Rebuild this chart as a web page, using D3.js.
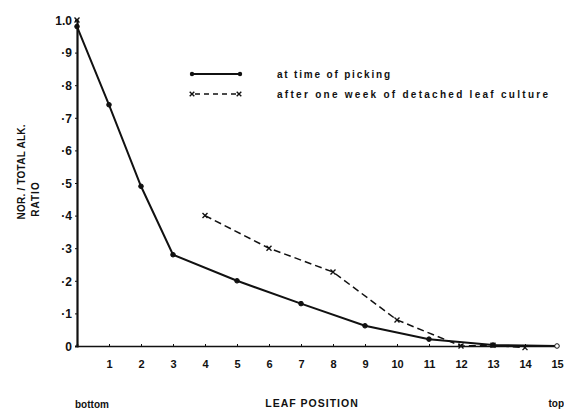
<!DOCTYPE html>
<html>
<head>
<meta charset="utf-8">
<script src="https://cdn.jsdelivr.net/npm/d3@7"></script>
<style>
  html, body { margin: 0; padding: 0; background: #fff; }
  svg { display: block; }
  text { font-family: "Liberation Sans", Arial, sans-serif; font-weight: bold; fill: #111; }
</style>
</head>
<body>
<script>
// ---- data ----
const leafPositions = [0, 1, 2, 3, 4, 5, 6, 7, 8, 9, 10, 11, 12, 13, 14, 15];
const yTickValues = [0, 0.1, 0.2, 0.3, 0.4, 0.5, 0.6, 0.7, 0.8, 0.9, 1.0];
const yTickLabels = ["0", "·1", "·2", "·3", "·4", "·5", "·6", "·7", "·8", "·9", "1.0"];

const pickingPositions = [0, 1, 2, 3, 5, 7, 9, 11, 13, 15];
const pickingValues = [0.98, 0.74, 0.49, 0.28, 0.20, 0.13, 0.062, 0.021, 0.003, 0.0];

const culturePositions = [0, 4, 6, 8, 10, 12, 13, 14];
const cultureValues = [1.0, 0.40, 0.30, 0.227, 0.08, 0.0, 0.002, -0.005];

const legendLabels = ["at time of picking", "after one week of detached leaf culture"];
const xAxisTitle = "LEAF POSITION";
const xEndLabels = ["bottom", "top"];
const yAxisTitle = ["NOR. / TOTAL  ALK.", "RATIO"];

// ---- chart ----
const W = 564, H = 410;
const svg = d3.select("body").append("svg").attr("width", W).attr("height", H);
const ink = "#111";

const x = d3.scaleLinear().domain([0, 15]).range([77, 557]);
const y = d3.scaleLinear().domain([0, 1]).range([346, 20]);

// x axis
const xAxis = d3.axisBottom(x)
  .tickValues(leafPositions)
  .tickSize(-2)
  .tickFormat(d => d === 0 ? "" : String(d));
const gx = svg.append("g").attr("transform", `translate(0,${y(0)})`).call(xAxis);
gx.select(".domain").attr("stroke", ink).attr("stroke-width", 1.6);
gx.selectAll(".tick line").attr("stroke", ink).attr("stroke-width", 1);
gx.selectAll(".tick text")
  .attr("y", 14)
  .attr("font-size", 11)
  .attr("font-family", "Liberation Sans, Arial, sans-serif")
  .attr("font-weight", "bold")
  .attr("fill", ink);

// y axis
const yAxis = d3.axisLeft(y)
  .tickValues(yTickValues)
  .tickSize(2)
  .tickFormat((d, i) => yTickLabels[i]);
const gy = svg.append("g").attr("transform", `translate(${x(0)},0)`).call(yAxis);
gy.select(".domain").attr("stroke", ink).attr("stroke-width", 2.2);
gy.selectAll(".tick line").attr("stroke", ink);
gy.selectAll(".tick text")
  .attr("x", -5)
  .attr("dy", "0.35em")
  .attr("font-size", 12)
  .attr("font-family", "Liberation Sans, Arial, sans-serif")
  .attr("font-weight", "bold")
  .attr("fill", ink);

// lines
const picking = pickingPositions.map((p, i) => ({ p, v: pickingValues[i] }));
const culture = culturePositions.map((p, i) => ({ p, v: cultureValues[i] }));

const line = d3.line().x(d => x(d.p)).y(d => y(d.v));

svg.append("path")
  .datum(picking)
  .attr("d", line)
  .attr("fill", "none")
  .attr("stroke", ink)
  .attr("stroke-width", 2);

svg.append("path")
  .datum(culture)
  .attr("d", line.defined(d => d.p >= 4))
  .attr("fill", "none")
  .attr("stroke", ink)
  .attr("stroke-width", 1.5)
  .attr("stroke-dasharray", "7,4");

// markers
svg.selectAll(".dot").data(picking).enter().append("circle")
  .attr("cx", d => x(d.p)).attr("cy", d => y(d.v))
  .attr("r", 2.3)
  .attr("fill", (d, i) => i === picking.length - 1 ? "#fff" : ink)
  .attr("stroke", ink).attr("stroke-width", 1);

function cross(g, cx, cy, s) {
  g.append("path")
    .attr("d", `M${cx - s},${cy - s}L${cx + s},${cy + s}M${cx + s},${cy - s}L${cx - s},${cy + s}`)
    .attr("stroke", ink).attr("stroke-width", 1.4).attr("fill", "none");
}
const gc = svg.append("g");
culture.forEach(d => cross(gc, x(d.p), y(d.v), 2.5));

// legend
const lg = svg.append("g");
lg.append("line").attr("x1", 192).attr("x2", 240).attr("y1", 74).attr("y2", 74)
  .attr("stroke", ink).attr("stroke-width", 2);
[192, 240].forEach(cx => lg.append("circle").attr("cx", cx).attr("cy", 74).attr("r", 2.2).attr("fill", ink));
lg.append("line").attr("x1", 195).attr("x2", 236).attr("y1", 94).attr("y2", 94)
  .attr("stroke", ink).attr("stroke-width", 1.5).attr("stroke-dasharray", "5,4");
cross(lg, 192, 94, 2.3);
cross(lg, 239, 94, 2.3);
lg.append("text").attr("x", 277).attr("y", 78).attr("font-size", 10)
  .attr("textLength", 113).attr("lengthAdjust", "spacing").text(legendLabels[0]);
lg.append("text").attr("x", 277).attr("y", 98).attr("font-size", 10)
  .attr("textLength", 271).attr("lengthAdjust", "spacing").text(legendLabels[1]);

// axis titles
svg.append("text").attr("x", 75).attr("y", 408).attr("font-size", 10).text(xEndLabels[0]);
svg.append("text").attr("x", 564).attr("y", 407).attr("font-size", 10).attr("text-anchor", "end").text(xEndLabels[1]);
svg.append("text").attr("x", 312).attr("y", 407).attr("font-size", 10.5)
  .attr("text-anchor", "middle").attr("letter-spacing", 1).text(xAxisTitle);

svg.append("text")
  .attr("transform", "translate(25,172) rotate(-90)")
  .attr("text-anchor", "middle").attr("font-size", 10)
  .attr("textLength", 95).attr("lengthAdjust", "spacing")
  .text(yAxisTitle[0]);
svg.append("text")
  .attr("transform", "translate(39,199) rotate(-90)")
  .attr("text-anchor", "middle").attr("font-size", 10).attr("letter-spacing", 1)
  .text(yAxisTitle[1]);
</script>
</body>
</html>
